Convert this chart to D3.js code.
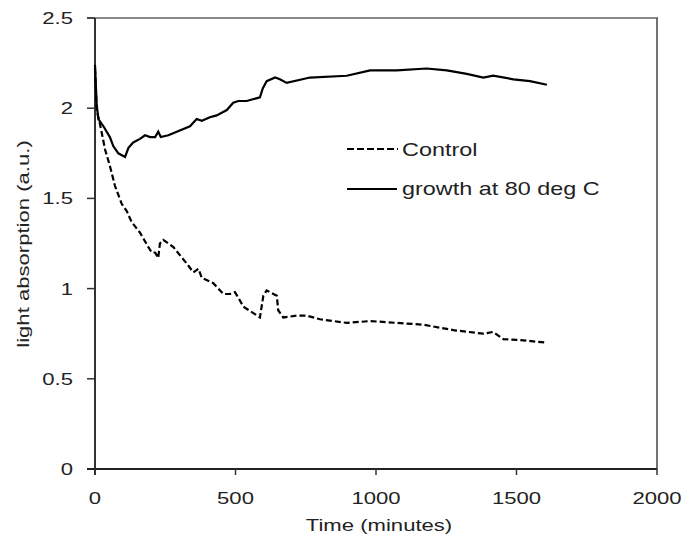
<!DOCTYPE html>
<html>
<head>
<style>
  body { margin: 0px; background: white; }
  text { font-family: "Liberation Sans", Arial, sans-serif; fill: #222; }
</style>
<script src="https://d3js.org/d3.v7.min.js"></script>
</head>
<body>
<svg></svg>
<script>
// growth at 80 deg C (solid)
const growthTime  = [0, 6, 12, 30, 53, 65, 83, 107, 119, 136, 160, 178, 196, 214, 225, 234, 261, 291, 338, 362, 380, 409, 433, 469, 492, 510, 540, 587, 597, 611, 641, 658, 682, 765, 896, 979, 1074, 1180, 1252, 1323, 1382, 1417, 1489, 1548, 1608];
const growthValue = [2.24, 2.02, 1.94, 1.90, 1.84, 1.79, 1.75, 1.73, 1.78, 1.81, 1.83, 1.85, 1.84, 1.84, 1.87, 1.84, 1.85, 1.87, 1.90, 1.94, 1.93, 1.95, 1.96, 1.99, 2.03, 2.04, 2.04, 2.06, 2.11, 2.15, 2.17, 2.16, 2.14, 2.17, 2.18, 2.21, 2.21, 2.22, 2.21, 2.19, 2.17, 2.18, 2.16, 2.15, 2.13];

// Control (dashed)
const controlTime  = [0, 6, 18, 36, 53, 71, 95, 113, 130, 160, 190, 202, 214, 225, 231, 243, 279, 326, 350, 368, 380, 421, 457, 480, 498, 510, 528, 587, 599, 611, 647, 652, 670, 718, 753, 801, 896, 979, 1074, 1168, 1275, 1382, 1417, 1453, 1512, 1608];
const controlValue = [2.22, 1.99, 1.91, 1.77, 1.68, 1.57, 1.47, 1.43, 1.37, 1.31, 1.23, 1.20, 1.20, 1.17, 1.25, 1.27, 1.23, 1.14, 1.09, 1.11, 1.06, 1.03, 0.97, 0.97, 0.98, 0.95, 0.90, 0.84, 0.96, 0.99, 0.96, 0.88, 0.84, 0.85, 0.85, 0.83, 0.81, 0.82, 0.81, 0.80, 0.77, 0.75, 0.76, 0.72, 0.715, 0.70];

const xTicks = [0, 500, 1000, 1500, 2000];
const yTicks = [0, 0.5, 1, 1.5, 2, 2.5];
const legendLabels = ["Control", "growth at 80 deg C"];

const width = 685, height = 541;
const plotLeft = 95, plotRight = 657, plotTop = 18, plotBottom = 469;
const stretch = 1.3;

const svg = d3.select("svg")
    .attr("width", width)
    .attr("height", height);

const x = d3.scaleLinear().domain([0, 2000]).range([plotLeft, plotRight]);
const y = d3.scaleLinear().domain([0, 2.5]).range([plotBottom, plotTop]);

// text drawn a bit wider than the font, like the original
function label(str, px, py, size, anchor, rot) {
  svg.append("text")
      .attr("transform", "translate(" + px + "," + py + ")" + (rot ? " rotate(" + rot + ")" : "") + " scale(" + stretch + ",1)")
      .attr("text-anchor", anchor)
      .style("font-size", size + "px")
      .text(str);
}

// frame: top grey, right dark
svg.append("line")
    .attr("x1", plotLeft - 8).attr("x2", plotRight + 1)
    .attr("y1", plotTop).attr("y2", plotTop)
    .style("stroke", "#888").style("stroke-width", 2);
svg.append("line")
    .attr("x1", plotRight).attr("x2", plotRight)
    .attr("y1", plotTop).attr("y2", plotBottom)
    .style("stroke", "#444").style("stroke-width", 1.5);

// y axis
svg.append("line")
    .attr("x1", plotLeft).attr("x2", plotLeft)
    .attr("y1", plotTop).attr("y2", plotBottom + 6)
    .style("stroke", "#333").style("stroke-width", 2);
yTicks.forEach(function(d) {
  svg.append("line")
      .attr("x1", plotLeft - 8).attr("x2", plotLeft)
      .attr("y1", y(d)).attr("y2", y(d))
      .style("stroke", "#333").style("stroke-width", 1.5);
  label(String(d), 73, y(d) + 6, 17, "end");
});

// x axis
svg.append("line")
    .attr("x1", plotLeft - 8).attr("x2", plotRight)
    .attr("y1", plotBottom).attr("y2", plotBottom)
    .style("stroke", "#222").style("stroke-width", 2);
xTicks.forEach(function(d) {
  svg.append("line")
      .attr("x1", x(d)).attr("x2", x(d))
      .attr("y1", plotBottom).attr("y2", plotBottom + 6)
      .style("stroke", "#333").style("stroke-width", 1.5);
  label(String(d), x(d), 504, 17, "middle");
});

label("Time (minutes)", 379, 531, 17, "middle");
label("light absorption (a.u.)", 29, 244, 17, "middle", -90);

const line = d3.line()
    .x(function(d) { return x(d[0]); })
    .y(function(d) { return y(d[1]); });

svg.append("path")
    .datum(controlTime.map(function(t, i) { return [t, controlValue[i]]; }))
    .attr("d", line)
    .style("fill", "none").style("stroke", "#000")
    .style("stroke-width", 2.2).style("stroke-dasharray", "6,3");

svg.append("path")
    .datum(growthTime.map(function(t, i) { return [t, growthValue[i]]; }))
    .attr("d", line)
    .style("fill", "none").style("stroke", "#000")
    .style("stroke-width", 2.2);

// legend
svg.append("line")
    .attr("x1", 347).attr("x2", 398).attr("y1", 149).attr("y2", 149)
    .style("stroke", "#000").style("stroke-width", 2.2).style("stroke-dasharray", "7,3");
label(legendLabels[0], 402, 156, 18, "start");
svg.append("line")
    .attr("x1", 347).attr("x2", 397).attr("y1", 189).attr("y2", 189)
    .style("stroke", "#000").style("stroke-width", 2.2);
label(legendLabels[1], 402, 195, 18, "start");
</script>
</body>
</html>
